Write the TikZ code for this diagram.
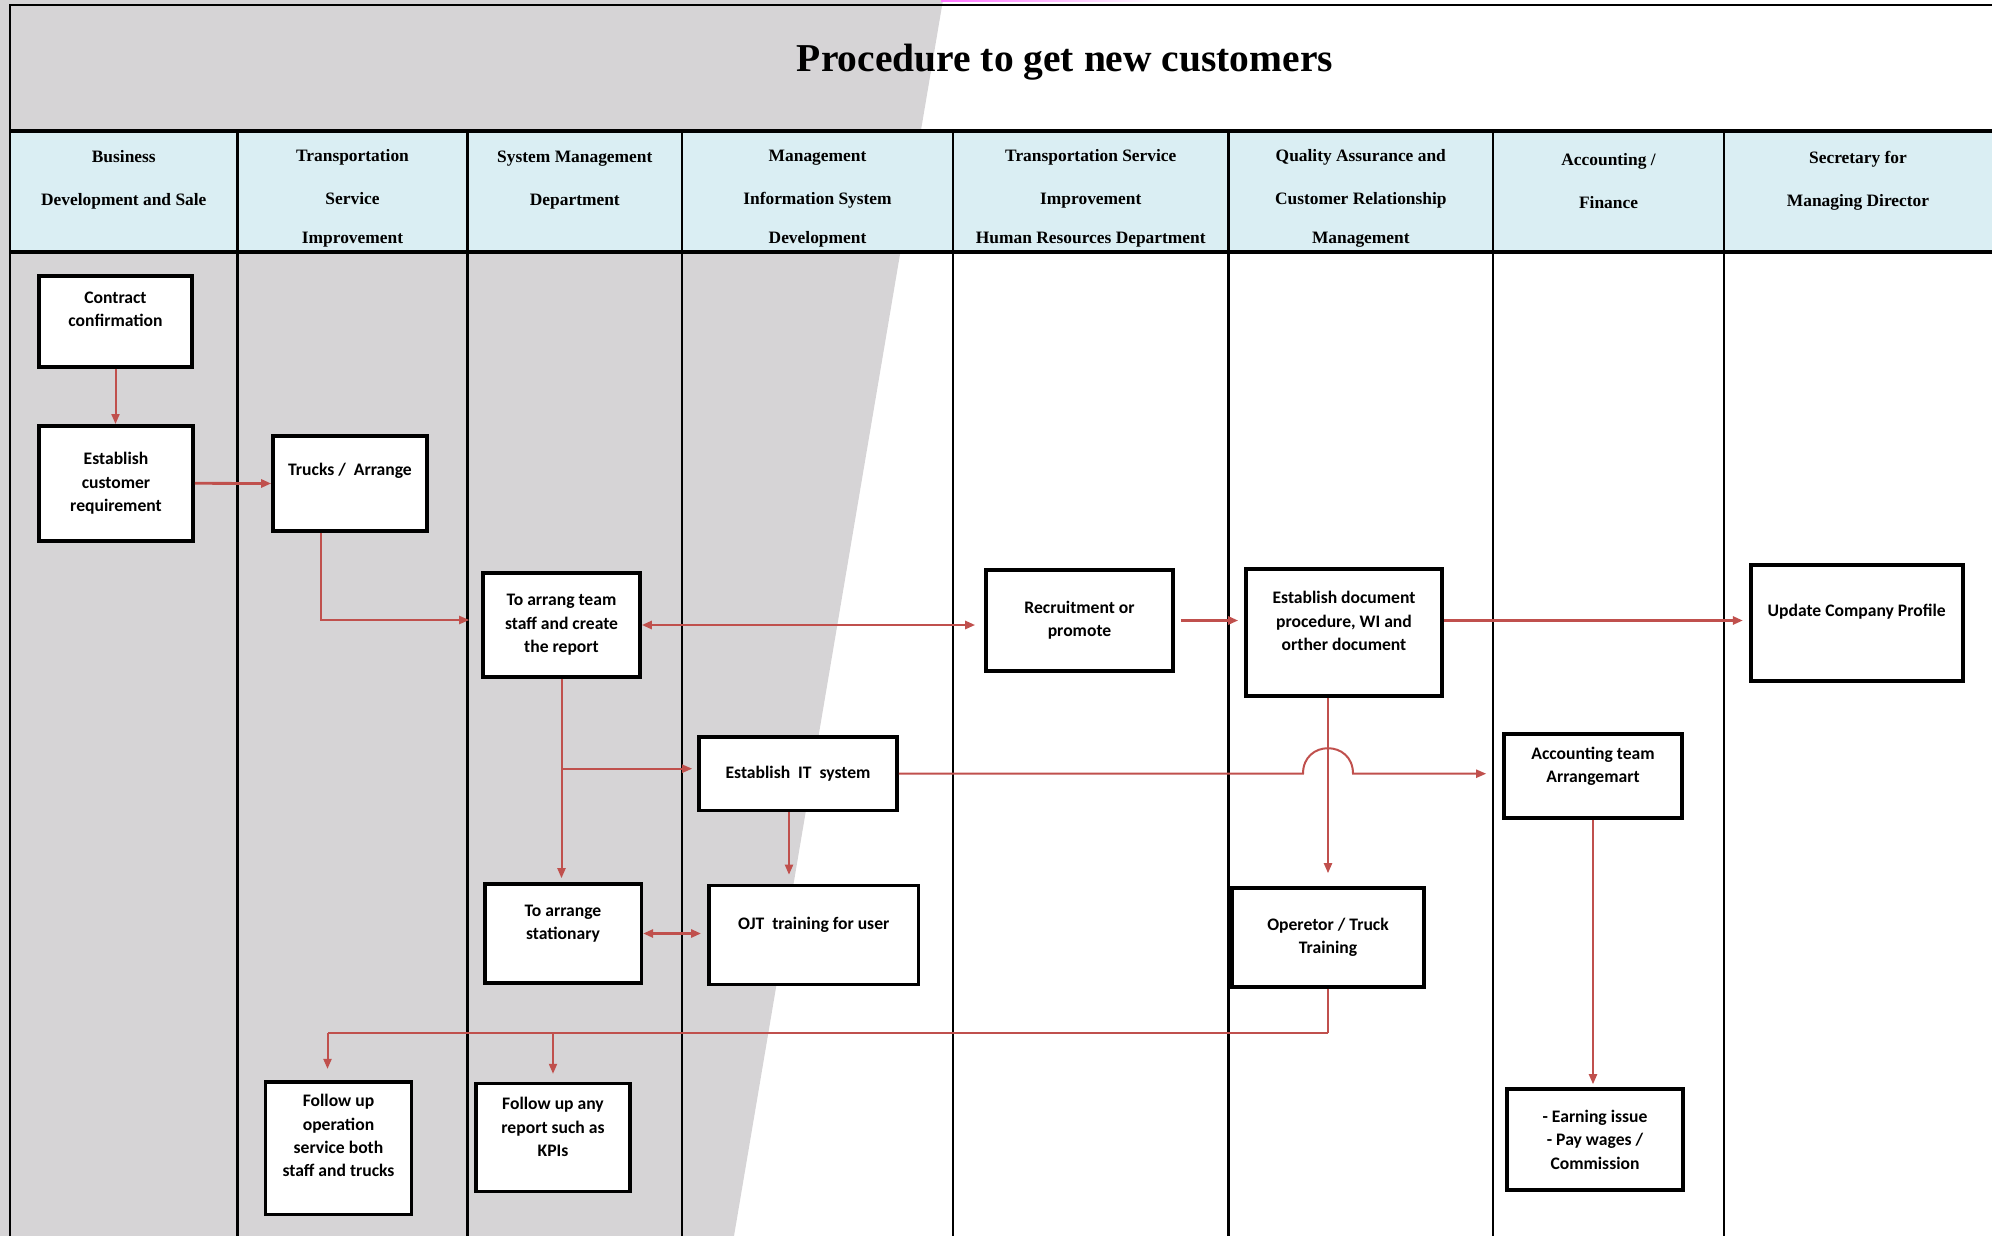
\documentclass[tikz,border=0pt]{standalone}
\usepackage{fontspec}
\setmainfont{Liberation Serif}
\newfontfamily\boxfont{Carlito}
\usetikzlibrary{arrows.meta,calc,positioning}

\definecolor{lanegray}{RGB}{214,212,214}
\definecolor{hdrblue}{RGB}{218,238,243}
\definecolor{flowred}{RGB}{192,80,77}

\tikzset{
  lane/.style={line width=1.2pt},
  hdrline/.style={line width=1.6pt},
  hdr/.style={font=\bfseries\fontsize{8.7}{21.5}\selectfont, align=center},
  boxtxt/.style={font=\boxfont\bfseries\fontsize{8.8}{11.7}\selectfont, align=center},
  box/.style={boxtxt, draw, line width=1.8pt, fill=white, inner sep=0pt},
  flow/.style={draw=flowred, line width=1pt},
  bigflow/.style={flow, line width=1.4pt},
  arr/.style={-{Triangle[length=5pt,width=4pt]}},
  darr/.style={{Triangle[length=5pt,width=4pt]}-{Triangle[length=5pt,width=4pt]}}
}

\begin{document}
\begin{tikzpicture}[x=0.5pt, y=-0.5pt]
\useasboundingbox (0,0) rectangle (1992,1236);
% Background and swimlanes
\fill[lanegray] (0,0) -- (943,0) -- (734,1236) -- (0,1236) -- cycle;
\shade[left color=magenta!55, right color=white] (941,0) rectangle (1160,2);
\fill[hdrblue] (10,131) rectangle (1992,252);
\draw[line width=1pt] (10,1236) -- (10,5) -- (1992,5);
\foreach \x in {237.5,467.5,682,953,1228.5,1493,1724}
  \draw[lane] (\x,131) -- (\x,1236);
\draw[hdrline] (10,131) -- (1992,131);
\draw[hdrline] (10,252) -- (1992,252);

\node[font=\bfseries\fontsize{19.75}{24}\selectfont] (title) at (1065,62) {Procedure to get new customers};

% Lane headers
\node[hdr] (h-bds) at (123.8,180) {Business\\Development and Sale};
\node[hdr] (h-tsi) at (352.5,198.5) {Transportation\\Service\\[-2pt]Improvement};
\node[hdr] (h-smd) at (574.8,180) {System Management\\Department};
\node[hdr] (h-mis) at (817.5,198.5) {Management\\Information System\\[-2pt]Development};
\node[hdr] (h-hrd) at (1090.8,198.5) {Transportation Service\\Improvement\\[-2pt]Human Resources Department};
\node[hdr] (h-qa) at (1360.8,198.5) {Quality Assurance and\\Customer Relationship\\[-2pt]Management};
\node[hdr] (h-acc) at (1608.5,181) {Accounting /\\Finance};
\node[hdr] (h-sec) at (1858,181) {Secretary for\\Managing Director};

% Steps
\node[box, minimum width=76.5pt, minimum height=45.5pt] (contract) at (115.5,321.5) {};
\node[boxtxt] (contract-t) at ($(contract)+(0,-12)$) {Contract\\confirmation};
\node[box, minimum width=77pt, minimum height=57.5pt] (estreq) at (116,483.3) {Establish\\customer\\requirement};
\node[box, minimum width=77pt, minimum height=47.5pt] (trucks) at (350,483.5) {};
\node[boxtxt] (trucks-t) at ($(trucks)+(0,-12.5)$) {Trucks /\ \ Arrange};
\node[box, minimum width=78.5pt, minimum height=52pt] (toarr) at (561.5,625) {To arrang team\\staff and create\\the report};
\node[box, minimum width=93.5pt, minimum height=50.5pt] (recruit) at (1079.5,620.5) {Recruitment or\\promote};
\node[box, minimum width=98pt, minimum height=63.5pt] (estdoc) at (1344,632.5) {};
\node[boxtxt] (estdoc-t) at ($(estdoc)+(0,-11.5)$) {Establish document\\procedure, WI and\\orther document};
\node[box, minimum width=106pt, minimum height=58pt] (update) at (1856.7,623) {};
\node[boxtxt] (update-t) at ($(update)+(0,-11)$) {Update Company Profile};
\node[box, minimum width=99pt, minimum height=36.8pt] (estit) at (798,773.7) {Establish\ \ IT\ \ system};
\node[box, minimum width=89pt, minimum height=42pt] (acct) at (1593,776) {};
\node[boxtxt] (acct-t) at ($(acct)+(0,-10)$) {Accounting team\\Arrangemart};
\node[box, minimum width=78.3pt, minimum height=49.5pt] (stat) at (563,933.5) {};
\node[boxtxt] (stat-t) at ($(stat)+(0,-10)$) {To arrange\\stationary};
\node[box, minimum width=104.8pt, minimum height=49.5pt] (ojt) at (813.7,935) {};
\node[boxtxt] (ojt-t) at ($(ojt)+(0,-10)$) {OJT\ \ training for user};
\node[box, minimum width=96pt, minimum height=49.5pt] (oper) at (1328,937.5) {Operetor / Truck\\Training};
\node[box, minimum width=73pt, minimum height=66.3pt] (fuop) at (338.5,1148) {};
\node[boxtxt] (fuop-t) at ($(fuop)+(0,-12.3)$) {Follow up\\operation\\service both\\staff and trucks};
\node[box, minimum width=77pt, minimum height=54pt] (fukpi) at (553,1137.6) {};
\node[boxtxt] (fukpi-t) at ($(fukpi)+(0,-10.6)$) {Follow up any\\report such as\\KPIs};
\node[box, minimum width=88pt, minimum height=50.5pt] (earn) at (1595,1139.5) {- Earning issue\\- Pay wages /\\Commission};

% Flows
\draw[flow, arr] (contract.south) -- (contract.south |- estreq.north);
\draw[bigflow, arr] (estreq.east) -- (trucks.west);
\draw[flow, arr, shorten >=6pt] ($(trucks.south)+(-29,0)$) |- ($(toarr.west)+(0,-5)$);
\draw[bigflow, darr, shorten >=4.5pt] (toarr.east) -- (toarr.east -| recruit.west);
\draw[bigflow, arr, shorten <=3pt, shorten >=3pt] (recruit.east) -- (recruit.east -| estdoc.west);
\coordinate (docout) at ($(estdoc.east)+(0,-12)$);
\draw[bigflow, arr, shorten >=3pt] (docout) -- (docout -| update.west);
\draw[flow, arr, shorten >=2pt] (toarr.south) -- (toarr.south |- stat.north);
\coordinate (itin) at ($(toarr.south |- estit.west)+(0,-5)$);
\draw[flow, arr, shorten >=2.5pt] (itin) -- (itin -| estit.west);
\coordinate (itdown) at ($(estit.south)+(-9,0)$);
\draw[flow, arr, shorten >=4.5pt] (itdown) -- (itdown |- ojt.north);
\coordinate (hopL) at ($(oper.north |- estit.east)+(-25,0)$);
\coordinate (hopR) at ($(oper.north |- estit.east)+(25,0)$);
\draw[flow, arr, shorten >=8pt] (estit.east) -- (hopL) .. controls +(0,-34) and +(0,-34) .. (hopR) -- (hopR -| acct.west);
\draw[flow, arr, shorten >=6.5pt] (oper.north |- estdoc.south) -- (oper.north);
\draw[bigflow, darr, shorten >=3pt] (stat.east) -- (stat.east -| ojt.west);
\coordinate (bus) at (0,1033);
\coordinate (fuopin) at ($(fuop.north)+(-11,0)$);
\draw[flow] (oper.south) -- (oper.south |- bus);
\draw[bigflow] (oper.south |- bus) -- (fuopin |- bus);
\draw[flow, arr, shorten >=5.5pt] (fuopin |- bus) -- (fuopin);
\draw[flow, arr, shorten >=4pt] (fukpi.north |- bus) -- (fukpi.north);
\draw[flow, arr, shorten >=1.5pt] (acct.south) -- (acct.south |- earn.north);
\end{tikzpicture}
\end{document}
